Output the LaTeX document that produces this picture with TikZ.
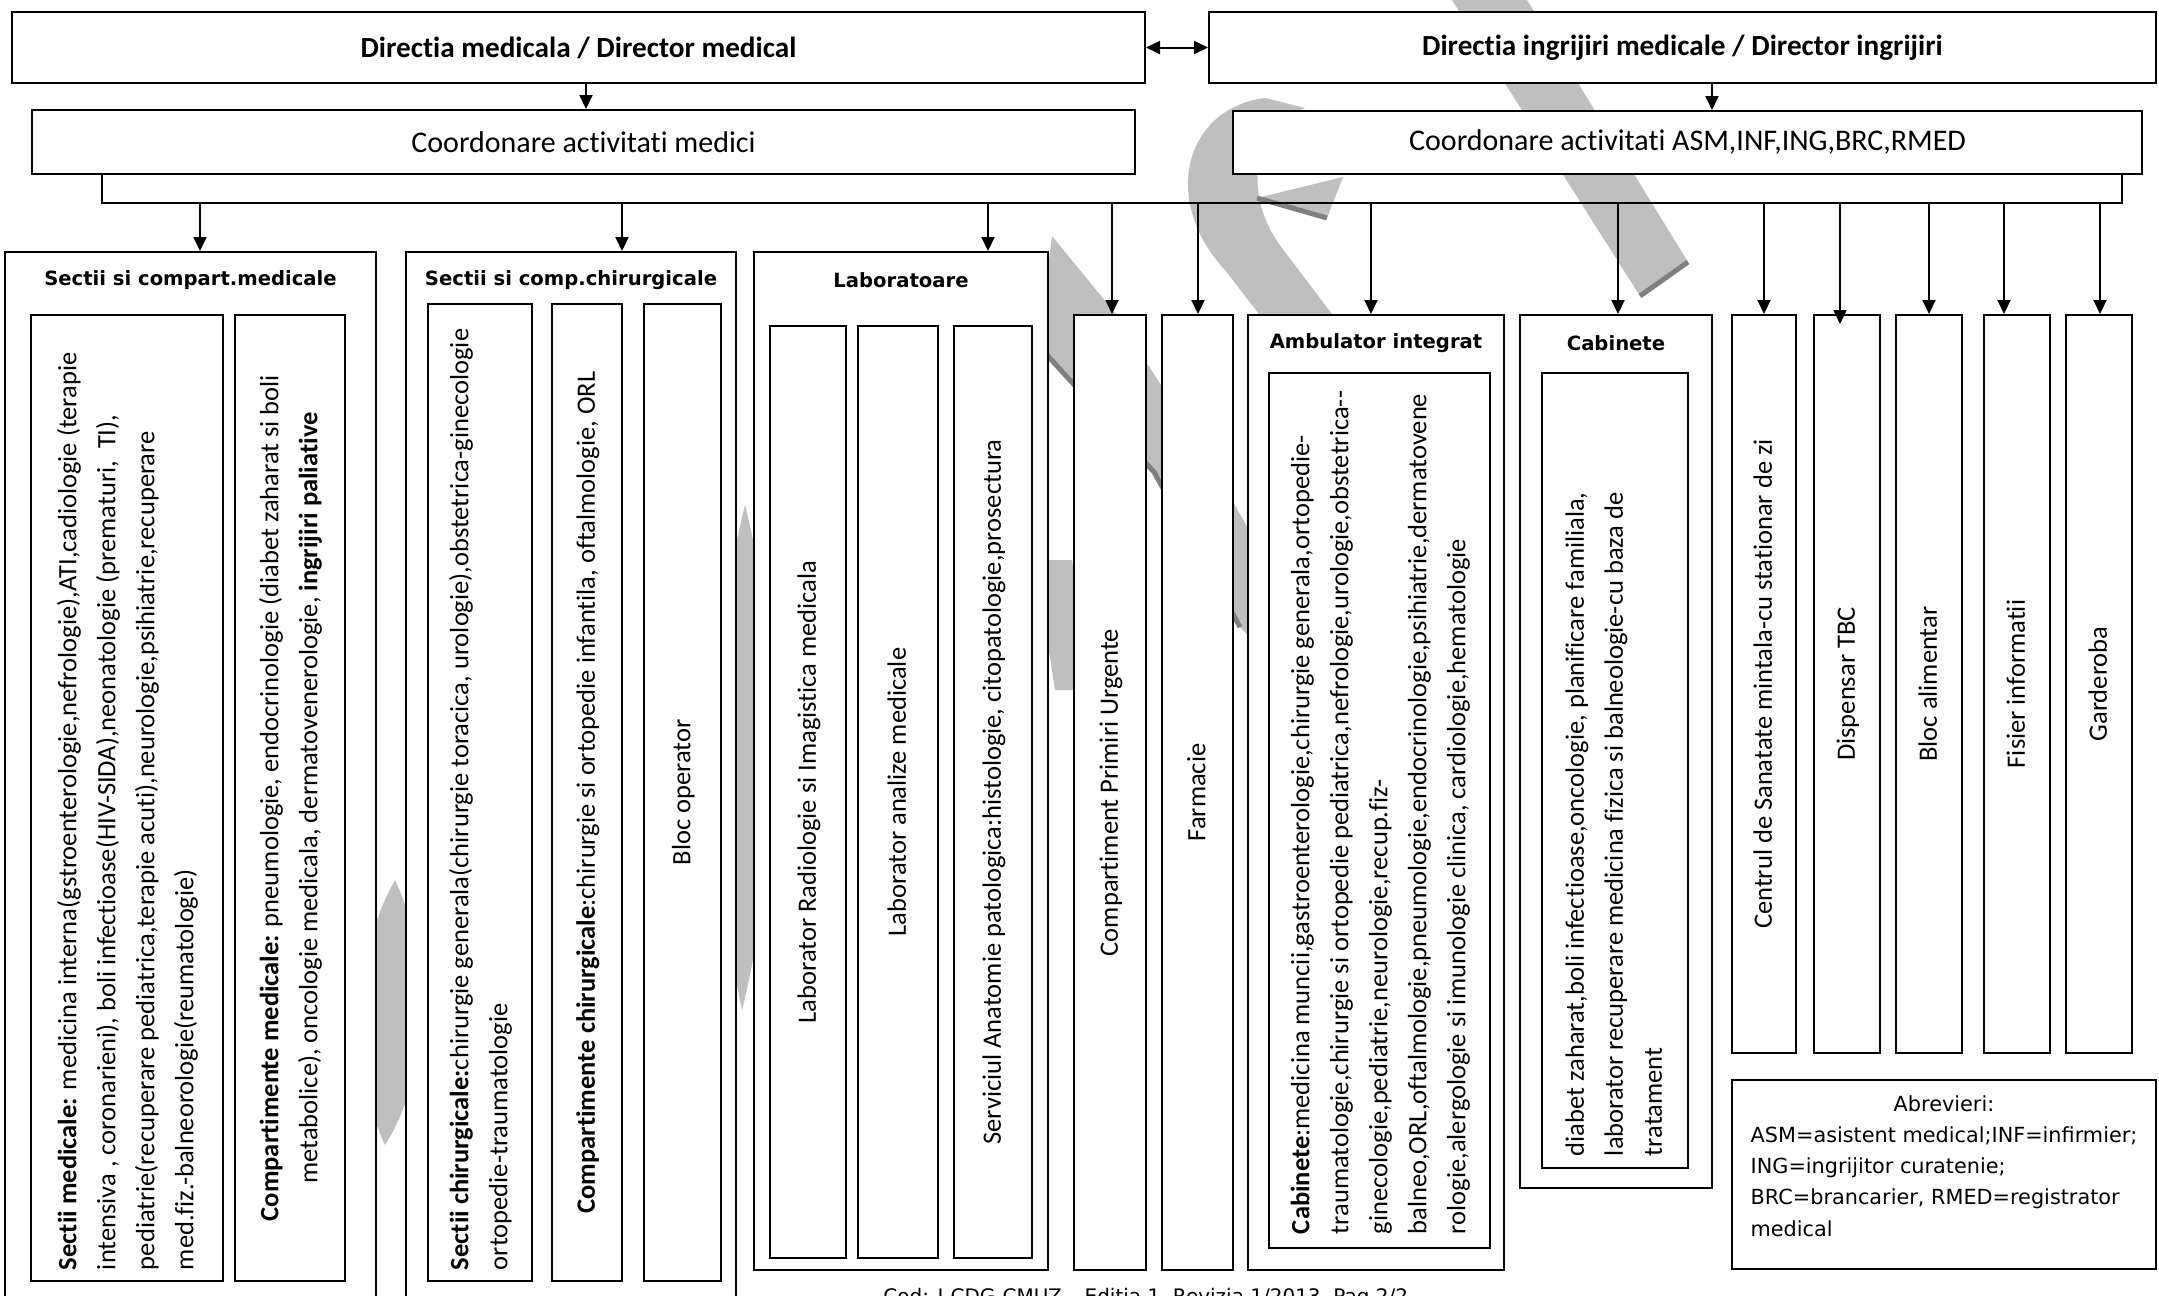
\documentclass[tikz,border=0pt]{standalone}
\usepackage{fontspec}
\setmainfont{Carlito}[Ligatures={NoCommon}]
\newfontfamily\verd{DejaVu Sans}
\usetikzlibrary{arrows.meta}
\newcommand\vleft[2]{\rotatebox{90}{\begin{minipage}{#1}\raggedright\begin{tabular}{@{}l@{}}#2\end{tabular}\end{minipage}}}
\newcommand\vcen[1]{\rotatebox{90}{\begin{tabular}{@{}c@{}}#1\end{tabular}}}
\begin{document}
\begin{tikzpicture}[x=0.5pt,y=-0.5pt,
  box/.style={draw, fill=white, line width=1pt, inner sep=0pt, anchor=center},
  body/.style={font=\fontsize{13.25pt}{19.5pt}\selectfont},
  head/.style={font=\bfseries\fontsize{14.6pt}{17pt}\selectfont},
  coordf/.style={font=\fontsize{15pt}{18pt}\selectfont},
  ttl/.style={font=\verd\bfseries\fontsize{9.8pt}{12pt}\selectfont, inner sep=0pt},
  wm/.style={fill=gray!50},
  wmedge/.style={draw=gray, line width=2.5pt},
  arr/.style={line width=1pt, -{Triangle[length=7pt,width=6.5pt]}},
  darr/.style={line width=1pt, {Triangle[length=7pt,width=6.5pt]}-{Triangle[length=7pt,width=6.5pt]}}]
\useasboundingbox (0,0) rectangle (2159,1296);
\clip (0,0) rectangle (2159,1296);
\fill[white] (0,0) rectangle (2159,1296);

% watermark (behind the boxes)
\fill[wm] (1452,0) -- (1527,0) -- (1688,262) -- (1640,296) -- cycle;
\draw[wmedge] (1640,296) -- (1688,262);
\fill[wm] (1265,98) .. controls (1185,108) and (1160,200) .. (1225,270) -- (1262,318) -- (1335,318)
  -- (1282,248) .. controls (1242,195) and (1252,130) .. (1305,108) -- cycle;
\fill[wm] (1257,198) -- (1343,177) -- (1327,218) -- cycle;
\draw[wmedge] (1257,198) -- (1327,218);
\fill[wm] (1052,236) -- (1115,313) -- (1215,470) -- (1300,620) -- (1262,650) -- (1240,627)
  -- (1154,472) -- (1046,354) -- (1044,300) -- cycle;
\draw[wmedge] (1240,627) -- (1154,472) -- (1046,354);
\fill[wm] (1035,560) -- (1072,560) -- (1092,690) -- (1055,690) -- cycle;
\fill[wm] (395,880) .. controls (432,960) and (432,1070) .. (385,1145) .. controls (350,1070) and (350,960) .. cycle;
\fill[wm] (745,505) .. controls (782,650) and (782,850) .. (742,1010) .. controls (708,850) and (708,650) .. cycle;

% top level
\node[box, head, minimum width=566.5pt, minimum height=35.5pt] (dirmed) at (578.5,47.5) {Directia medicala / Director medical};
\node[box, head, minimum width=473.5pt, minimum height=35.5pt] (diring) at (1682.5,47.5) {Directia ingrijiri medicale / Director ingrijiri};
\node[box, coordf, minimum width=551.5pt, minimum height=32pt] (coord1) at (583.5,142) {Coordonare activitati medici};
\node[box, coordf, minimum width=454.5pt, minimum height=31.5pt] (coord2) at (1687.5,142.5) {Coordonare activitati ASM,INF,ING,BRC,RMED};

% section boxes
\node[box, minimum width=185.5pt, minimum height=529pt] (A) at (190.5,781) {};
\node[ttl] (tA) at (190.5,280) {Sectii si compart.medicale};
\node[box, body, minimum width=96pt, minimum height=483pt] (A1) at (127,798)
  {\vleft{472pt}{\textbf{Sectii medicale:} medicina interna(gstroenterologie,nefrologie),ATI,cadiologie (terapie\\
  intensiva , coronarieni), boli infectioase(HIV-SIDA),neonatologie (prematuri,\ \ TI),\\
  pediatrie(recuperare pediatrica,terapie acuti),neurologie,psihiatrie,recuperare\\
  med.fiz.-balneorologie(reumatologie)}};
\node[box, body, minimum width=55pt, minimum height=483pt] (A2) at (290,798)
  {\vcen{\textbf{Compartimente medicale:} pneumologie, endocrinologie (diabet zaharat si boli\\
  metabolice), oncologie medicala, dermatovenerologie, \textbf{ingrijiri paliative}}};

\node[box, minimum width=165pt, minimum height=529pt] (B) at (571,781) {};
\node[ttl] (tB) at (571,280) {Sectii si comp.chirurgicale};
\node[box, body, minimum width=52pt, minimum height=488.5pt] (B1) at (480,792.5)
  {\vleft{477.5pt}{\textbf{Sectii chirurgicale:}chirurgie generala(chirurgie toracica, urologie),obstetrica-ginecologie\\
  ortopedie-traumatologie}};
\node[box, body, minimum width=35pt, minimum height=488.5pt] (B2) at (587,792.5)
  {\vcen{\textbf{Compartimente chirurgicale}:chirurgie si ortopedie infantila, oftalmologie, ORL}};
\node[box, body, minimum width=38.5pt, minimum height=488.5pt] (B3) at (682.5,792.5) {\vcen{Bloc operator}};

\node[box, minimum width=147pt, minimum height=509pt] (C) at (901,761) {};
\node[ttl] (tC) at (901,280) {Laboratoare};
\node[box, body, minimum width=38pt, minimum height=466pt] (C1) at (808,792) {\vcen{Laborator Radiologie si Imagistica medicala}};
\node[box, body, minimum width=40pt, minimum height=466pt] (C2) at (898,792) {\vcen{Laborator analize medicale}};
\node[box, body, minimum width=39pt, minimum height=466pt] (C3) at (993,792) {\vcen{Serviciul Anatomie patologica:histologie, citopatologie,prosectura}};

\node[box, body, minimum width=36pt, minimum height=477.5pt] (D) at (1110,792.5) {\vcen{Compartiment Primiri Urgente}};
\node[box, body, minimum width=35.5pt, minimum height=477.5pt] (E) at (1197.5,792.5) {\vcen{Farmacie}};

\node[box, minimum width=128pt, minimum height=477.5pt] (F) at (1376,792.5) {};
\node[ttl] (tF) at (1376,343) {Ambulator integrat};
\node[box, body, minimum width=110.5pt, minimum height=437.5pt] (F1) at (1379.5,810.5)
  {\vleft{423.5pt}{\textbf{Cabinete}:medicina muncii,gastroenterologie,chirurgie generala,ortopedie-\\
  traumatologie,chirurgie si ortopedie pediatrica,nefrologie,urologie,obstetrica-{}-\\
  ginecologie,pediatrie,neurologie,recup.fiz-\\
  balneo,ORL,oftalmologie,pneumologie,endocrinologie,psihiatrie,dermatovene\\
  rologie,alergologie si imunologie clinica, cardiologie,hematologie}};

\node[box, minimum width=96pt, minimum height=436.5pt] (G) at (1616,751.5) {};
\node[ttl] (tG) at (1616,343) {Cabinete};
\node[box, body, minimum width=73pt, minimum height=397.5pt] (G1) at (1615,770.5)
  {\vleft{385.5pt}{diabet zaharat,boli infectioase,oncologie, planificare familiala,\\
  laborator recuperare medicina fizica si balneologie-cu baza de\\
  tratament}};

\node[box, body, minimum width=32pt, minimum height=369pt] (H) at (1764,684) {\vcen{Centrul de Sanatate mintala-cu stationar de zi}};
\node[box, body, minimum width=33pt, minimum height=369pt] (I) at (1847,684) {\vcen{Dispensar TBC}};
\node[box, body, minimum width=33pt, minimum height=369pt] (J) at (1929,684) {\vcen{Bloc alimentar}};
\node[box, body, minimum width=33pt, minimum height=369pt] (K) at (2017,684) {\vcen{Fisier informatii}};
\node[box, body, minimum width=33pt, minimum height=369pt] (L) at (2099,684) {\vcen{Garderoba}};

\node[box, minimum width=212pt, minimum height=94.5pt,
  font=\verd\fontsize{10.4pt}{15.6pt}\selectfont] (M) at (1944,1174.5)
  {\raisebox{3.5pt}[\height][\depth]{\begin{tabular}{@{}l@{}}
   \multicolumn{1}{@{}c@{}}{Abrevieri:}\\
   ASM=asistent medical;INF=infirmier;\\
   ING=ingrijitor curatenie;\\
   BRC=brancarier, RMED=registrator\\
   medical\end{tabular}}};

\node[anchor=north west, inner sep=0pt, font=\verd\fontsize{10pt}{12pt}\selectfont] (footer) at (883,1288)
  {Cod: I-CDG-CMUZ – Editia 1, Revizia 1/2013, Pag 2/2};

% connectors
\draw[darr] (dirmed.east) -- (diring.west);
\coordinate (cm) at (586,110);
\coordinate (ci) at (1712,110);
\draw[arr] (cm |- dirmed.south) -- (cm |- coord1.north);
\draw[arr] (ci |- diring.south) -- (ci |- coord2.north);

\coordinate (bl) at (102,203);
\coordinate (br) at (2122,203);
\draw[line width=1pt] (bl |- coord1.south) -- (bl) -- (br) -- (br |- coord2.south);

\foreach \n/\x in {A/200, B/622, C/988, D/1112, E/1198, F/1371, G/1618, H/1764, J/1929, K/2004, L/2100}{
  \coordinate (b\n) at (\x,203);
  \draw[arr] (b\n) -- (b\n |- \n.north);
}
\coordinate (bI) at (1840,203);
\draw[arr] (bI) -- ([yshift=-5pt]bI |- I.north);
\end{tikzpicture}
\end{document}
